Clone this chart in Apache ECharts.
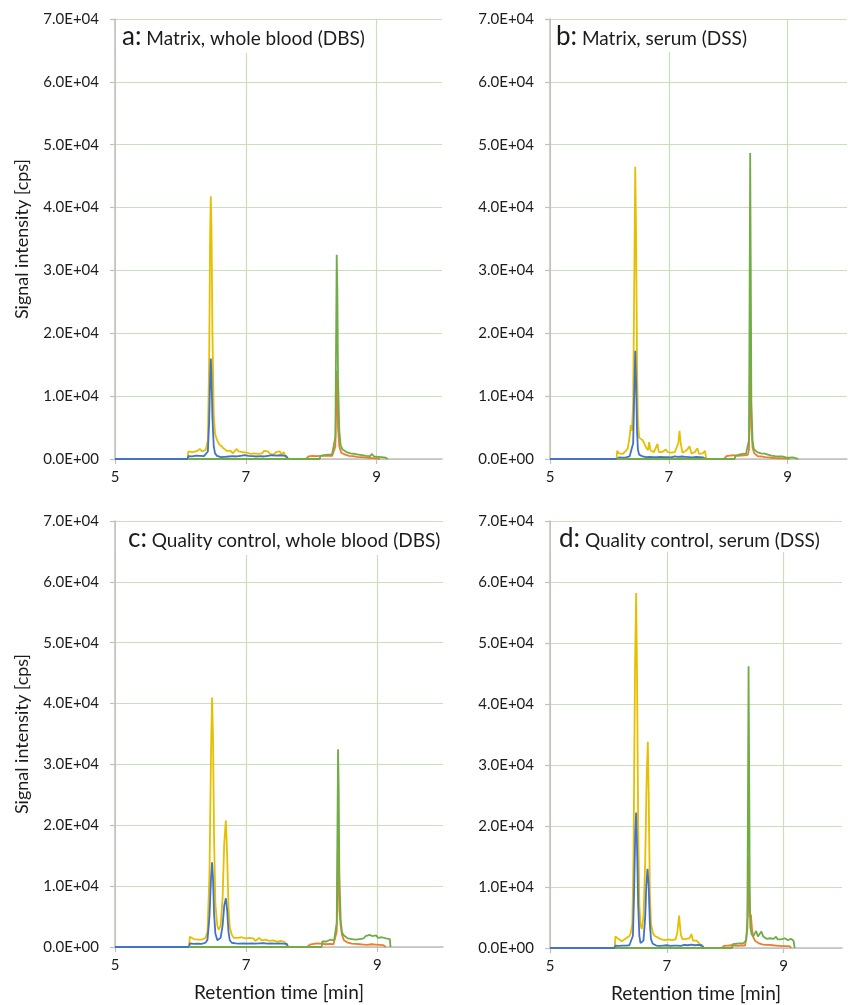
<!DOCTYPE html>
<html><head><meta charset="utf-8">
<script src="https://cdn.jsdelivr.net/npm/echarts@6/dist/echarts.min.js"></script>
<style>html,body{margin:0;padding:0;background:#fff}#c{width:848px;height:1005px}</style>
</head><body><div id="c"></div>
<script>
// ---- data ----
const xTicks = [5, 7, 9];
const xMin = 5, xMax = 10;
const yMax = 70000, yStep = 10000;
const panelLetters = ['a:', 'b:', 'c:', 'd:'];
const panelTitles = ['Matrix, whole blood (DBS)', 'Matrix, serum (DSS)', 'Quality control, whole blood (DBS)', 'Quality control, serum (DSS)'];
const xAxisName = 'Retention time [min]';
const yAxisName = 'Signal intensity [cps]';
const traceNames = ['Trace 1', 'Trace 2', 'Trace 3', 'Trace 4'];

const aYellow = [[6.11,0],[6.12,1200],[6.15,1300],[6.18,1100],[6.21,1400],[6.24,1200],[6.27,1300],[6.30,1600],[6.33,1200],[6.36,1400],[6.39,1500],[6.42,3000],[6.44,16000],[6.455,36000],[6.465,41800],[6.475,37000],[6.49,20000],[6.51,7000],[6.53,4000],[6.56,3000],[6.59,2400],[6.62,2100],[6.65,1800],[6.68,1500],[6.71,1300],[6.74,1000],[6.77,1300],[6.80,900],[6.83,1100],[6.86,1600],[6.89,1200],[6.92,1500],[6.95,1100],[6.98,1400],[7.01,1000],[7.04,1200],[7.07,800],[7.10,1000],[7.13,900],[7.16,1200],[7.19,800],[7.22,1100],[7.25,900],[7.28,1300],[7.31,1000],[7.34,1200],[7.37,800],[7.40,1000],[7.43,700],[7.46,1100],[7.49,800],[7.52,1200],[7.55,700],[7.58,1100],[7.61,900],[7.62,0]];
const aBlue = [[5,0],[6.11,0],[6.12,450],[6.15,500],[6.18,420],[6.21,400],[6.24,550],[6.27,400],[6.30,500],[6.33,350],[6.36,450],[6.39,400],[6.42,1200],[6.44,6000],[6.455,13000],[6.465,16000],[6.475,13500],[6.49,6500],[6.51,2000],[6.53,900],[6.56,500],[6.59,350],[6.62,300],[6.65,200],[6.68,350],[6.71,250],[6.74,400],[6.77,300],[6.80,450],[6.83,300],[6.86,400],[6.89,350],[6.92,500],[6.95,400],[6.98,600],[7.01,400],[7.04,500],[7.07,350],[7.10,450],[7.13,500],[7.16,400],[7.19,550],[7.22,450],[7.25,600],[7.28,400],[7.31,550],[7.34,500],[7.37,450],[7.40,600],[7.43,400],[7.46,550],[7.49,450],[7.52,600],[7.55,500],[7.58,550],[7.62,450],[7.65,0]];
const aOrange = [[7.92,0],[7.93,200],[7.96,400],[7.99,300],[8.02,500],[8.05,350],[8.08,450],[8.11,300],[8.14,500],[8.17,400],[8.20,550],[8.23,450],[8.26,500],[8.29,600],[8.32,500],[8.35,700],[8.37,2000],[8.38,8000],[8.39,14000],[8.40,10000],[8.41,5000],[8.43,2000],[8.46,1000],[8.49,800],[8.52,700],[8.55,600],[8.58,500],[8.61,400],[8.64,450],[8.67,300],[8.70,350],[8.73,250],[8.76,300],[8.79,200],[8.82,250],[8.85,150],[8.88,200],[8.91,100],[8.94,150],[8.97,80],[9.00,100],[9.03,50],[9.05,0]];
const aGreen = [[6.12,0],[8.13,0],[8.14,500],[8.17,700],[8.20,600],[8.23,800],[8.26,700],[8.29,900],[8.32,750],[8.35,1000],[8.37,3500],[8.38,18000],[8.39,32500],[8.40,27000],[8.41,13000],[8.43,4500],[8.45,2200],[8.48,1500],[8.51,1300],[8.54,1100],[8.57,1200],[8.60,900],[8.63,1000],[8.66,800],[8.69,900],[8.72,700],[8.75,800],[8.78,600],[8.81,700],[8.84,500],[8.87,600],[8.90,450],[8.93,800],[8.96,400],[8.99,500],[9.02,350],[9.05,400],[9.08,300],[9.11,350],[9.14,200],[9.17,0]];

const bYellow = [[6.12,0],[6.13,1300],[6.16,900],[6.19,1000],[6.22,800],[6.25,1000],[6.28,1300],[6.31,1700],[6.34,3500],[6.36,5400],[6.38,4500],[6.40,9000],[6.42,30000],[6.435,46500],[6.45,35000],[6.465,15000],[6.48,6000],[6.50,3400],[6.53,3200],[6.56,3000],[6.59,2400],[6.62,1800],[6.65,1400],[6.67,2700],[6.69,1400],[6.72,1300],[6.75,1100],[6.78,1300],[6.81,2400],[6.83,1150],[6.86,1300],[6.89,1100],[6.92,1200],[6.95,1500],[6.98,1100],[7.01,1300],[7.04,1000],[7.07,1200],[7.10,1100],[7.13,1300],[7.16,2500],[7.18,4500],[7.20,2500],[7.23,1000],[7.26,1100],[7.29,1300],[7.32,1000],[7.35,2000],[7.38,900],[7.41,1000],[7.44,1100],[7.48,1700],[7.51,800],[7.54,700],[7.57,900],[7.61,1300],[7.63,0]];
const bBlue = [[5,0],[6.12,0],[6.13,300],[6.16,250],[6.19,300],[6.22,200],[6.25,300],[6.28,250],[6.31,350],[6.34,400],[6.37,600],[6.40,2500],[6.42,11000],[6.435,17200],[6.45,12000],[6.465,4500],[6.48,1500],[6.50,700],[6.53,500],[6.56,400],[6.59,350],[6.62,300],[6.65,250],[6.68,350],[6.71,250],[6.74,300],[6.77,200],[6.80,300],[6.83,250],[6.86,350],[6.89,250],[6.92,300],[6.95,200],[6.98,300],[7.01,350],[7.04,250],[7.07,300],[7.10,400],[7.13,300],[7.16,350],[7.19,300],[7.22,400],[7.25,300],[7.28,350],[7.31,250],[7.34,300],[7.37,350],[7.40,250],[7.43,300],[7.46,350],[7.49,250],[7.52,300],[7.55,350],[7.58,250],[7.61,300],[7.63,0]];
const bOrange = [[7.93,0],[7.94,300],[7.97,450],[8.00,350],[8.03,550],[8.06,400],[8.09,600],[8.12,450],[8.15,500],[8.18,350],[8.21,550],[8.24,450],[8.27,600],[8.30,500],[8.33,650],[8.35,1500],[8.36,8000],[8.37,21500],[8.38,14000],[8.39,5000],[8.41,1800],[8.44,900],[8.47,600],[8.50,450],[8.53,350],[8.56,400],[8.59,250],[8.62,300],[8.65,200],[8.68,250],[8.71,150],[8.74,200],[8.77,100],[8.80,150],[8.83,80],[8.86,120],[8.89,60],[8.92,100],[8.95,50],[8.98,80],[9.01,40],[9.03,0]];
const bGreen = [[6.12,0],[8.11,0],[8.12,500],[8.15,800],[8.18,700],[8.21,900],[8.24,800],[8.27,1000],[8.30,850],[8.33,1100],[8.35,3000],[8.36,25000],[8.37,48700],[8.38,30000],[8.39,9000],[8.41,3000],[8.43,1600],[8.46,1300],[8.49,1100],[8.52,1000],[8.55,900],[8.58,800],[8.61,850],[8.64,650],[8.67,700],[8.70,600],[8.73,550],[8.76,500],[8.79,450],[8.82,500],[8.85,400],[8.88,350],[8.91,400],[8.94,300],[8.97,250],[9.00,300],[9.03,200],[9.06,150],[9.09,250],[9.12,150],[9.15,100],[9.18,0]];

const cYellow = [[6.13,0],[6.14,1700],[6.17,1500],[6.20,1300],[6.23,1400],[6.26,1200],[6.29,1300],[6.32,1200],[6.35,1300],[6.38,1500],[6.41,2500],[6.44,12000],[6.465,33000],[6.48,41000],[6.495,34000],[6.51,18000],[6.53,7000],[6.56,3500],[6.58,2800],[6.61,3500],[6.64,8000],[6.665,17000],[6.69,20800],[6.71,15000],[6.73,6500],[6.75,3200],[6.78,2000],[6.81,1500],[6.84,1300],[6.87,1500],[6.90,1200],[6.93,1600],[6.96,1300],[6.99,1400],[7.02,1100],[7.05,1500],[7.08,1200],[7.11,1400],[7.14,1000],[7.17,1300],[7.20,1500],[7.23,1100],[7.26,1400],[7.29,1200],[7.32,1500],[7.35,1000],[7.38,1300],[7.41,1100],[7.44,1400],[7.47,900],[7.50,1200],[7.53,1000],[7.56,1300],[7.59,800],[7.62,1000],[7.63,0]];
const cBlue = [[5,0],[6.13,0],[6.14,600],[6.17,650],[6.20,500],[6.23,600],[6.26,550],[6.29,650],[6.32,500],[6.35,600],[6.38,700],[6.41,1200],[6.44,5000],[6.465,11500],[6.48,13900],[6.495,11000],[6.51,5500],[6.53,2200],[6.56,1100],[6.58,900],[6.61,1500],[6.64,3500],[6.665,6800],[6.69,8000],[6.71,6000],[6.73,2500],[6.75,1100],[6.78,700],[6.81,500],[6.84,600],[6.87,400],[6.90,550],[6.93,450],[6.96,600],[6.99,400],[7.02,550],[7.05,500],[7.08,600],[7.11,400],[7.14,550],[7.17,450],[7.20,600],[7.23,500],[7.26,650],[7.29,450],[7.32,550],[7.35,400],[7.38,600],[7.41,450],[7.44,550],[7.47,500],[7.50,600],[7.53,400],[7.56,550],[7.59,450],[7.62,500],[7.64,0]];
const cOrange = [[7.93,0],[7.94,300],[7.97,400],[8.00,350],[8.03,500],[8.06,450],[8.09,600],[8.12,500],[8.15,550],[8.18,400],[8.21,450],[8.24,350],[8.27,500],[8.30,400],[8.33,450],[8.36,600],[8.38,2500],[8.39,10000],[8.40,18500],[8.41,12000],[8.42,6000],[8.44,3500],[8.46,2000],[8.49,1100],[8.52,800],[8.55,700],[8.58,600],[8.61,550],[8.64,650],[8.67,500],[8.70,550],[8.73,450],[8.76,500],[8.79,400],[8.82,450],[8.85,350],[8.88,400],[8.91,450],[8.94,350],[8.97,400],[9.00,300],[9.03,350],[9.06,250],[9.09,300],[9.12,200],[9.13,0]];
const cGreen = [[6.13,0],[8.15,0],[8.16,900],[8.19,1100],[8.22,900],[8.25,1000],[8.28,1200],[8.31,900],[8.34,1100],[8.36,1300],[8.38,4000],[8.39,18000],[8.40,32500],[8.41,26000],[8.42,12000],[8.44,4500],[8.46,2400],[8.49,1900],[8.52,1700],[8.55,1400],[8.58,1600],[8.61,1300],[8.64,1500],[8.67,1200],[8.70,1500],[8.73,1300],[8.76,1600],[8.79,1400],[8.82,1800],[8.85,1500],[8.88,2000],[8.90,2300],[8.92,1800],[8.95,1600],[8.98,1900],[9.01,1500],[9.04,1400],[9.07,1600],[9.10,1300],[9.13,1400],[9.16,1200],[9.19,1300],[9.20,0]];

const dYellow = [[6.11,0],[6.12,1900],[6.14,2200],[6.17,1500],[6.20,1300],[6.23,1100],[6.26,1300],[6.29,1500],[6.32,1700],[6.35,1900],[6.38,2300],[6.41,4000],[6.43,15000],[6.455,45000],[6.475,58200],[6.49,45000],[6.51,20000],[6.53,7000],[6.55,3800],[6.57,3100],[6.60,5000],[6.63,14000],[6.655,28000],[6.675,33800],[6.69,25000],[6.71,9000],[6.73,4000],[6.76,2500],[6.79,2000],[6.82,1800],[6.85,1700],[6.88,1900],[6.91,1400],[6.94,1600],[6.97,1300],[7.00,1500],[7.03,1400],[7.06,1700],[7.09,1300],[7.12,1500],[7.15,1400],[7.18,2500],[7.21,5300],[7.24,2200],[7.27,1400],[7.30,1300],[7.33,1500],[7.36,1200],[7.39,1600],[7.42,2300],[7.45,1200],[7.48,900],[7.51,1200],[7.54,1300],[7.57,600],[7.59,500],[7.60,0]];
const dBlue = [[5,0],[6.11,0],[6.12,400],[6.15,500],[6.18,350],[6.21,450],[6.24,400],[6.27,500],[6.30,400],[6.33,550],[6.36,450],[6.39,600],[6.42,2000],[6.44,9000],[6.46,19000],[6.475,22200],[6.49,17000],[6.51,7000],[6.53,2000],[6.55,800],[6.57,600],[6.60,1200],[6.63,5000],[6.65,10500],[6.67,13000],[6.69,10000],[6.71,4000],[6.73,1400],[6.76,700],[6.79,500],[6.82,400],[6.85,550],[6.88,350],[6.91,500],[6.94,400],[6.97,600],[7.00,450],[7.03,500],[7.06,350],[7.09,500],[7.12,400],[7.15,550],[7.18,400],[7.21,500],[7.24,350],[7.27,450],[7.30,500],[7.33,350],[7.36,450],[7.39,400],[7.42,550],[7.45,350],[7.48,450],[7.51,400],[7.54,500],[7.57,350],[7.60,450],[7.63,300],[7.64,0]];
const dOrange = [[7.94,0],[7.95,300],[7.98,350],[8.01,450],[8.04,400],[8.07,550],[8.10,450],[8.13,500],[8.16,400],[8.19,450],[8.22,350],[8.25,400],[8.28,450],[8.31,350],[8.34,400],[8.37,700],[8.38,3000],[8.39,9000],[8.40,15000],[8.41,9000],[8.42,5000],[8.44,5500],[8.46,3000],[8.48,1800],[8.51,1200],[8.54,900],[8.57,800],[8.60,700],[8.63,600],[8.66,550],[8.69,500],[8.72,450],[8.75,500],[8.78,400],[8.81,450],[8.84,350],[8.87,400],[8.90,300],[8.93,350],[8.96,280],[8.99,300],[9.02,250],[9.05,300],[9.08,200],[9.11,250],[9.13,0]];
const dGreen = [[6.12,0],[8.12,0],[8.13,650],[8.16,800],[8.19,700],[8.22,900],[8.25,750],[8.28,1000],[8.31,800],[8.34,900],[8.36,1200],[8.38,5000],[8.39,25000],[8.40,46200],[8.41,30000],[8.42,10000],[8.43,3500],[8.45,2300],[8.48,1900],[8.50,2000],[8.53,2800],[8.56,1900],[8.59,2100],[8.62,2700],[8.65,1900],[8.68,1600],[8.71,1500],[8.74,1400],[8.77,1600],[8.80,1300],[8.83,1500],[8.87,1850],[8.90,1400],[8.93,1200],[8.96,1400],[8.99,1300],[9.02,1600],[9.04,1750],[9.07,1300],[9.10,1200],[9.13,1500],[9.15,1650],[9.17,1200],[9.19,0]];

// ---- presentation ----
const FONT = 'Lato';
const TXT = '#1c1c1c';
const GRIDC = '#c9dfbb';
const AXC = '#c0c0c0';
const colors = ['#e6bf00', '#4472c4', '#ed7d31', '#70ad47'];
const panels = [
  [aYellow, aBlue, aOrange, aGreen],
  [bYellow, bBlue, bOrange, bGreen],
  [cYellow, cBlue, cOrange, cGreen],
  [dYellow, dBlue, dOrange, dGreen]
];
const grids = [
  {left: 115, top: 19, width: 327, height: 440},
  {left: 550, top: 19, width: 297, height: 440},
  {left: 115, top: 521, width: 328, height: 426},
  {left: 550, top: 521, width: 292, height: 427}
];
const titlePos = [
  {left: 116, top: 21, padding: [4, 10, 3, 6]},
  {left: 551, top: 21, padding: [4, 10, 2, 5]},
  {left: 116, top: 523, padding: [4, 6, 3, 12]},
  {left: 551, top: 523, padding: [4, 6, 0, 8]}
];

function sci(v) {
  if (v === 0) return '0.0E+00';
  const e = Math.floor(Math.log10(Math.abs(v)));
  const m = v / Math.pow(10, e);
  return m.toFixed(1) + 'E+' + String(e).padStart(2, '0');
}

const option = {
  animation: false,
  backgroundColor: '#fff',
  textStyle: {fontFamily: FONT, color: TXT},
  grid: grids.map(g => Object.assign({containLabel: false}, g)),
  title: panelTitles.map((t, i) => ({
    text: '{l|' + panelLetters[i] + '}{t| ' + t + '}',
    left: titlePos[i].left, top: titlePos[i].top,
    padding: titlePos[i].padding,
    backgroundColor: '#fff',
    z: 10,
    textStyle: {
      fontFamily: FONT, fontWeight: 'normal',
      rich: {
        l: {fontSize: 26, fontFamily: FONT, fontWeight: 'normal', color: TXT, verticalAlign: 'bottom', lineHeight: 25},
        t: {fontSize: 19, fontFamily: FONT, fontWeight: 'normal', color: TXT, verticalAlign: 'bottom', lineHeight: 25, padding: [0, 0, 2, 0]}
      }
    }
  })),
  xAxis: grids.map((g, i) => ({
    type: 'value', gridIndex: i, min: xMin, max: xMax, interval: 2,
    name: i >= 2 ? xAxisName : '', nameLocation: 'middle', nameGap: 36,
    nameTextStyle: {fontFamily: FONT, fontSize: 19, color: TXT},
    axisLine: {show: true, onZero: false, lineStyle: {color: AXC, width: 1.5}},
    axisTick: {show: true, length: 5, lineStyle: {color: AXC, width: 1.2}, customValues: xTicks},
    axisLabel: {fontFamily: FONT, fontSize: 15, color: TXT, margin: 11, customValues: xTicks, formatter: v => String(v)},
    splitLine: {show: true, lineStyle: {color: GRIDC, width: 1.2}}
  })),
  yAxis: grids.map((g, i) => ({
    type: 'value', gridIndex: i, min: 0, max: yMax, interval: yStep,
    name: (i % 2 === 0) ? yAxisName : '', nameLocation: 'middle', nameGap: 84,
    nameTextStyle: {fontFamily: FONT, fontSize: 18, color: TXT},
    axisLine: {show: true, lineStyle: {color: AXC, width: 1.5}},
    axisTick: {show: true, length: 5, lineStyle: {color: AXC, width: 1.2}},
    axisLabel: {fontFamily: FONT, fontSize: 15, color: TXT, margin: 16, formatter: sci},
    splitLine: {show: true, lineStyle: {color: GRIDC, width: 1.2}}
  })),
  series: []
};

panels.forEach((p, i) => {
  p.forEach((d, k) => {
    option.series.push({
      type: 'line', name: traceNames[k], xAxisIndex: i, yAxisIndex: i,
      data: d, showSymbol: false, symbol: 'none', smooth: false,
      lineStyle: {color: colors[k], width: 1.8}, itemStyle: {color: colors[k]},
      z: 3 + k, silent: true
    });
  });
});

const chart = echarts.init(document.getElementById('c'), null, {renderer: 'canvas'});
chart.setOption(option);
</script></body></html>
